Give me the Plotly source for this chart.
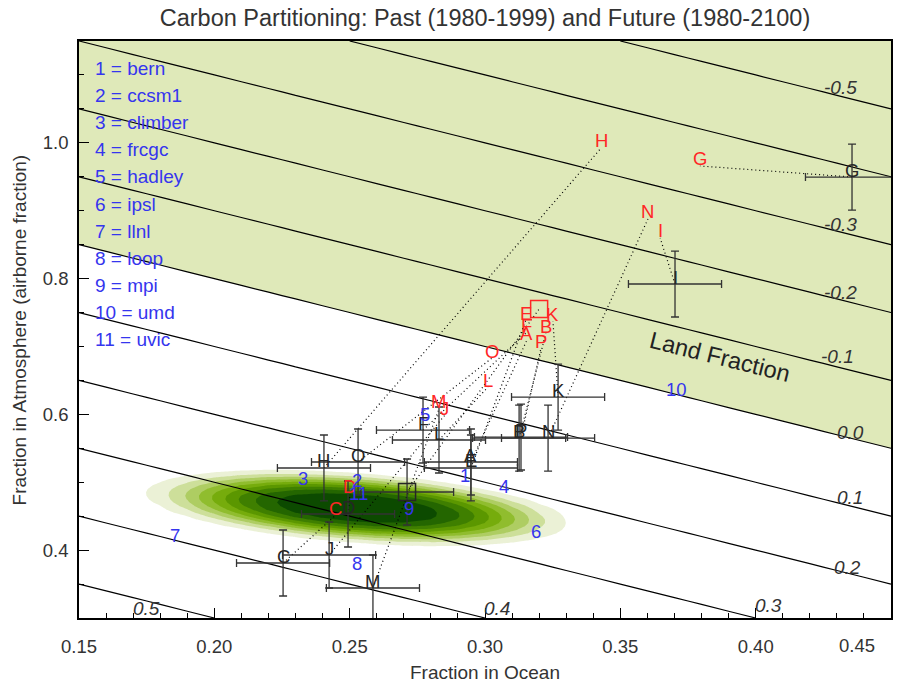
import numpy as np
import plotly.graph_objects as go

# ---------------- axes ----------------
OCEAN_RANGE = [0.15, 0.45]
ATM_RANGE = [0.30, 1.15]
OCEAN_TICKS = [0.15, 0.20, 0.25, 0.30, 0.35, 0.40, 0.45]
ATM_TICKS = [0.4, 0.6, 0.8, 1.0]

# ---------------- land-fraction isolines (land = 1 - ocean - atmosphere) ----------------
LAND_START, LAND_END, LAND_STEP = -0.5, 0.5, 0.1
LAND_LABEL_TEXT = ["-0.5", "-0.3", "-0.2", "-0.1", "0.0", "0.1", "0.2", "0.3", "0.4", "0.5"]
LAND_LABEL_OCEAN = [0.4312, 0.4312, 0.4312, 0.4304, 0.4349, 0.4349, 0.4341, 0.4046, 0.3044, 0.1751]
LAND_LABEL_ATM = [1.0808, 0.8804, 0.7802, 0.6845, 0.5740, 0.4782, 0.3751, 0.3177, 0.3147, 0.3147]

# ---------------- past (1980-1999) estimates: black letters ----------------
PAST_LABELS = ["A", "B", "C", "D", "E", "F", "G", "H", "I", "J", "K", "L", "M", "N", "O", "P"]
PAST_OCEAN = [0.2948, 0.3126, 0.2254, 0.2494, 0.2948, 0.2771, 0.4356, 0.2405,
              0.3702, 0.2424, 0.3270, 0.2830, 0.2586, 0.3233, 0.2531, 0.3133]
PAST_ATM = [0.5298, 0.5651, 0.3810, 0.4532, 0.5210, 0.5769, 0.9496, 0.5210,
            0.7920, 0.3928, 0.6255, 0.5622, 0.3442, 0.5651, 0.5298, 0.5666]
ERR_OCEAN = 0.0172
ERR_ATM = 0.0486

# ---------------- future (1980-2100) estimates: red letters ----------------
FUTURE_OCEAN = [0.3155, 0.3225, 0.2449, 0.2501, 0.3151, 0.3155, 0.3794, 0.3429,
                0.3647, 0.2852, 0.3251, 0.3011, 0.2830, 0.3602, 0.3026, 0.3207]
FUTURE_ATM = [0.7095, 0.7198, 0.4517, 0.4827, 0.7390, 0.7213, 0.9659, 0.9924,
              0.8598, 0.5990, 0.7375, 0.6403, 0.6079, 0.8878, 0.6830, 0.6977]

# ---------------- square-marked estimate ----------------
BOX_PAST_OCEAN, BOX_PAST_ATM = [0.2712], [0.4856]
BOX_FUTURE_OCEAN, BOX_FUTURE_ATM = [0.3200], [0.7552]

# ---------------- C4MIP models: blue numbers ----------------
MODEL_NUMBERS = ["1", "2", "3", "4", "5", "6", "7", "8", "9", "10", "11"]
MODEL_NAMES = ["bern", "ccsm1", "climber", "frcgc", "hadley", "ipsl", "llnl", "loop", "mpi", "umd", "uvic"]
MODEL_OCEAN = [0.2926, 0.2527, 0.2328, 0.3070, 0.2778, 0.3188, 0.1855, 0.2527, 0.2719, 0.3709, 0.2531]
MODEL_ATM = [0.5106, 0.5033, 0.5062, 0.4930, 0.5995, 0.4267, 0.4222, 0.3810, 0.4620, 0.6359, 0.4841]

# ---------------- observational constraint (green density) ----------------
OBS_OCEAN_CENTER = 0.2527
OBS_ATM_CENTER = 0.462
OBS_OCEAN_SCALE = 0.0599
OBS_ATM_SCALE = 0.040
OBS_SHAPE = 3.3
OBS_TILT = -0.285
OBS_LEVEL_START, OBS_LEVEL_END, OBS_LEVEL_STEP = 0.1, 0.9, 0.1
OBS_COLORS = ["#EBF1D6", "#CDDF9A", "#AECD62", "#90BD2E", "#76AC0C", "#5B9700",
              "#3F7F00", "#246600", "#0C4A00"]

LAND_FILL = "#DFE9B9"
BLACK = "#262626"
RED = "#FF2626"
BLUE = "#3535EE"
FONT = "Liberation Sans, Arial, sans-serif"

fig = go.Figure()

# land < 0 shading
gx = np.linspace(OCEAN_RANGE[0], OCEAN_RANGE[1], 31)
gy = np.linspace(ATM_RANGE[0], ATM_RANGE[1], 35)
GX, GY = np.meshgrid(gx, gy)
land = 1.0 - GX - GY
fig.add_trace(go.Contour(
    x=gx, y=gy, z=land, showscale=False, hoverinfo="skip",
    contours=dict(type="constraint", operation=">", value=0),
    fillcolor=LAND_FILL, line=dict(width=0, color="rgba(0,0,0,0)")))

# observational density
dx_grid = np.arange(OCEAN_RANGE[0], OCEAN_RANGE[1] + 1e-9, 0.01)
dy_grid = np.arange(ATM_RANGE[0], 0.70 + 1e-9, 0.005)
DX, DY = np.meshgrid(dx_grid, dy_grid)
ddx = DX - OBS_OCEAN_CENTER
resid = DY - (OBS_ATM_CENTER + OBS_TILT * ddx)
rr = np.sqrt((ddx / OBS_OCEAN_SCALE) ** 2 + (resid / OBS_ATM_SCALE) ** 2)
dens = np.exp(-rr ** OBS_SHAPE)
cols = ["rgba(0,0,0,0)"] + OBS_COLORS
n = len(cols)
cscale = []
for i, c in enumerate(cols):
    cscale.append([i / n, c])
    cscale.append([(i + 1) / n, c])
fig.add_trace(go.Contour(
    x=dx_grid, y=dy_grid, z=dens, showscale=False, hoverinfo="skip", autocontour=False,
    contours=dict(start=OBS_LEVEL_START, end=OBS_LEVEL_END, size=OBS_LEVEL_STEP,
                  coloring="fill", showlines=False),
    colorscale=cscale, line=dict(width=0, smoothing=0)))

# land isolines
fig.add_trace(go.Contour(
    x=gx, y=gy, z=land, showscale=False, hoverinfo="skip", autocontour=False,
    contours=dict(start=LAND_START, end=LAND_END, size=LAND_STEP, coloring="none"),
    line=dict(color="black", width=1.2, smoothing=0)))

# dotted connectors past -> future
cx, cy = [], []
for x0, y0, x1, y1 in zip(PAST_OCEAN + BOX_PAST_OCEAN, PAST_ATM + BOX_PAST_ATM,
                          FUTURE_OCEAN + BOX_FUTURE_OCEAN, FUTURE_ATM + BOX_FUTURE_ATM):
    cx += [x0, x1, None]
    cy += [y0, y1, None]
fig.add_trace(go.Scatter(x=cx, y=cy, mode="lines", hoverinfo="skip",
                         line=dict(color="black", width=1.2, dash="1px,3px")))

# error bars for past estimates
fig.add_trace(go.Scatter(
    x=PAST_OCEAN + BOX_PAST_OCEAN, y=PAST_ATM + BOX_PAST_ATM, mode="markers",
    marker=dict(size=1, color="rgba(0,0,0,0)"), hoverinfo="skip",
    error_x=dict(type="constant", value=ERR_OCEAN, color="#333333", thickness=1.3, width=4),
    error_y=dict(type="constant", value=ERR_ATM, color="#333333", thickness=1.3, width=4)))

# squares
fig.add_trace(go.Scatter(x=BOX_PAST_OCEAN, y=BOX_PAST_ATM, mode="markers", hoverinfo="skip",
                         marker=dict(symbol="square-open", size=17, color=BLACK, line=dict(width=1.5))))
fig.add_trace(go.Scatter(x=BOX_FUTURE_OCEAN, y=BOX_FUTURE_ATM, mode="markers", hoverinfo="skip",
                         marker=dict(symbol="square-open", size=17, color=RED, line=dict(width=1.5))))

annotations = []
for t, x, y in zip(LAND_LABEL_TEXT, LAND_LABEL_OCEAN, LAND_LABEL_ATM):
    annotations.append(dict(x=x, y=y, xref="x", yref="y", text=t, showarrow=False,
                            font=dict(family=FONT, size=19, color="#333333", style="italic")))
for lab, x, y in zip(PAST_LABELS, PAST_OCEAN, PAST_ATM):
    annotations.append(dict(x=x, y=y, xref="x", yref="y", text=lab, showarrow=False, yshift=7,
                            font=dict(family=FONT, size=18.5, color=BLACK)))
for lab, x, y in zip(PAST_LABELS, FUTURE_OCEAN, FUTURE_ATM):
    annotations.append(dict(x=x, y=y, xref="x", yref="y", text=lab, showarrow=False, yshift=7,
                            font=dict(family=FONT, size=18.5, color=RED)))
for lab, x, y in zip(MODEL_NUMBERS, MODEL_OCEAN, MODEL_ATM):
    annotations.append(dict(x=x, y=y, xref="x", yref="y", text=lab, showarrow=False,
                            font=dict(family=FONT, size=18.5, color=BLUE)))
for i, (num, name) in enumerate(zip(MODEL_NUMBERS, MODEL_NAMES)):
    annotations.append(dict(x=0.0172, y=0.9515 - i * 0.0468, xref="paper", yref="paper",
                            xanchor="left", yanchor="middle", text=f"{num} = {name}", showarrow=False,
                            font=dict(family=FONT, size=19, color=BLUE)))
annotations.append(dict(x=0.3868, y=0.6845, xref="x", yref="y", text="Land Fraction", showarrow=False,
                        textangle=14, font=dict(family=FONT, size=23.5, color="#222222")))
# last x tick label is drawn slightly inside the page edge, as in the reference
annotations.append(dict(x=0.9828, y=0, xref="paper", yref="paper", yanchor="middle", yshift=-27,
                        text=f"{OCEAN_TICKS[-1]:.2f}", showarrow=False,
                        font=dict(family=FONT, size=18.5, color="#333333")))
annotations.append(dict(x=0.5, y=0, xref="paper", yref="paper", yanchor="middle", yshift=-54,
                        text="Fraction in Ocean", showarrow=False,
                        font=dict(family=FONT, size=19, color="#333333")))
annotations.append(dict(x=-0.0727, y=0.5, xref="paper", yref="paper", xanchor="center", yanchor="middle",
                        text="Fraction in Atmosphere (airborne fraction)", showarrow=False, textangle=-90,
                        font=dict(family=FONT, size=19, color="#333333")))

x_ticktext = [f"{v:.2f}" for v in OCEAN_TICKS[:-1]] + [""]

fig.update_layout(
    width=909, height=682,
    margin=dict(l=79, r=18, t=41, b=64, autoexpand=False),
    plot_bgcolor="white", paper_bgcolor="white",
    showlegend=False,
    title=dict(text="Carbon Partitioning: Past (1980-1999) and Future (1980-2100)",
               x=0.5, xref="paper", y=1 - 18 / 682, yanchor="middle",
               font=dict(family=FONT, size=23.5, color="#333333")),
    annotations=annotations,
    xaxis=dict(range=OCEAN_RANGE, tickmode="array", tickvals=OCEAN_TICKS, ticktext=x_ticktext,
               automargin=False,
               showgrid=False, zeroline=False, showline=True, linecolor="black", linewidth=1.5,
               mirror=True, ticks="inside", ticklen=10, tickwidth=1.2, tickcolor="black",
               minor=dict(tick0=0.15, dtick=0.01, ticks="inside", ticklen=5, tickcolor="black", tickwidth=1.2),
               ticklabelstandoff=11,
               tickfont=dict(family=FONT, size=18.5, color="#333333")),
    yaxis=dict(range=ATM_RANGE, tickmode="array", tickvals=ATM_TICKS, tickformat=".1f", automargin=False,
               showgrid=False, zeroline=False, showline=True, linecolor="black", linewidth=1.5,
               mirror=True, ticks="inside", ticklen=10, tickwidth=1.2, tickcolor="black",
               minor=dict(tick0=0.0, dtick=0.05, ticks="inside", ticklen=5, tickcolor="black", tickwidth=1.2),
               ticklabelstandoff=5,
               tickfont=dict(family=FONT, size=18.5, color="#333333")),
)

fig.write_html("out.html")
